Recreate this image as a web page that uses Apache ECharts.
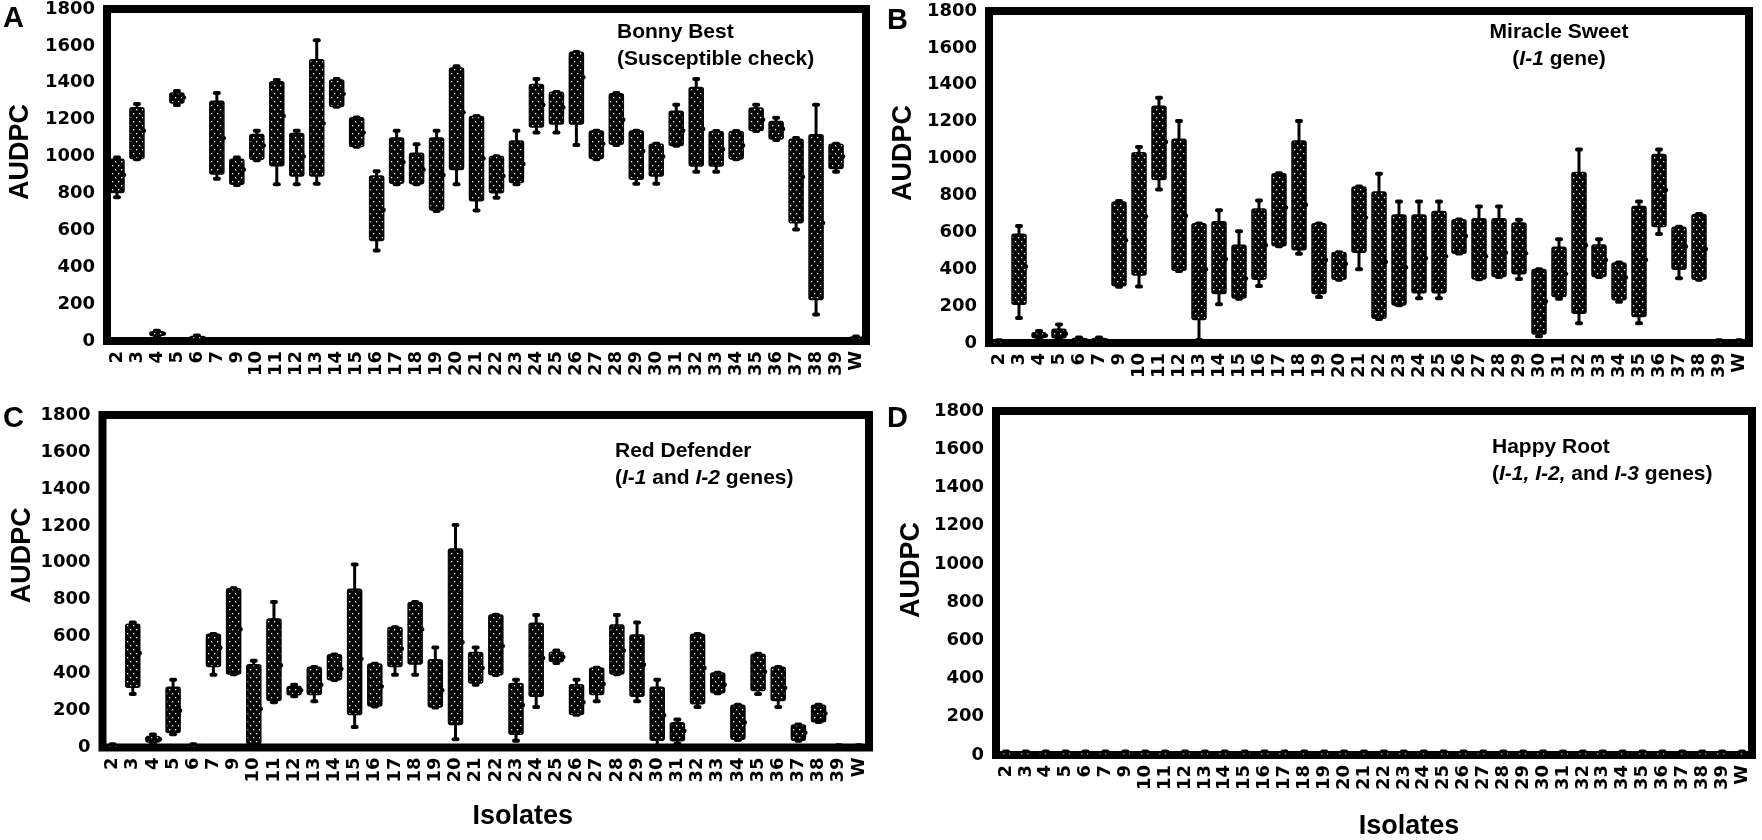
<!DOCTYPE html>
<html>
<head>
<meta charset="utf-8">
<title>AUDPC by isolate</title>
<script src="https://cdn.jsdelivr.net/npm/echarts@6/dist/echarts.min.js"></script>
<style>
	html, body { margin: 0; padding: 0; background: #fff; }
	#chart { width: 1762px; height: 840px; }
</style>
</head>
<body>
<div id="chart"></div>
<script>
(() => {

	// isolates on the x axis (no 8), W = water control
	const isolates = ['2', '3', '4', '5', '6', '7', '9', '10', '11', '12', '13', '14', '15', '16',
		'17', '18', '19', '20', '21', '22', '23', '24', '25', '26', '27', '28', '29', '30', '31',
		'32', '33', '34', '35', '36', '37', '38', '39', 'W'];

	const yTicks = [0, 1800, 200]; // min, max, step

	// each row: [min, Q1, median, Q3, max]
	const bonnyBest = [
		[780, 805, 900, 985, 995], [985, 990, 1140, 1265, 1285], [25, 30, 40, 50, 55],
		[1280, 1290, 1320, 1345, 1355], [5, 10, 15, 25, 30], [880, 905, 1100, 1300, 1345],
		[846, 850, 930, 985, 995], [980, 985, 1060, 1120, 1140], [850, 950, 1220, 1405, 1415],
		[850, 895, 1000, 1125, 1140], [853, 895, 1180, 1525, 1630], [1270, 1272, 1340, 1415, 1420],
		[1053, 1055, 1130, 1210, 1212], [490, 545, 710, 895, 920], [850, 855, 970, 1100, 1140],
		[850, 852, 930, 1018, 1067], [705, 710, 900, 1100, 1140], [850, 930, 1240, 1480, 1490],
		[708, 760, 990, 1217, 1220], [777, 804, 895, 1000, 1002], [850, 860, 960, 1085, 1140],
		[1130, 1160, 1280, 1390, 1420], [1130, 1176, 1266, 1348, 1350], [1062, 1176, 1430, 1565, 1567],
		[985, 989, 1070, 1139, 1140], [1062, 1067, 1200, 1340, 1344], [853, 877, 1030, 1139, 1140],
		[853, 895, 1000, 1067, 1070], [1058, 1060, 1140, 1245, 1281], [918, 949, 1150, 1375, 1420],
		[918, 949, 1040, 1136, 1138], [985, 987, 1060, 1136, 1138], [1139, 1141, 1200, 1263, 1281],
		[1090, 1095, 1150, 1190, 1210], [605, 641, 890, 1094, 1100], [143, 225, 640, 1118, 1281],
		[918, 935, 1000, 1067, 1070], [0, 5, 10, 20, 25]
	];

	const miracleSweet = [
		[0, 3, 5, 10, 15], [135, 210, 415, 590, 635], [20, 30, 40, 55, 65],
		[20, 29, 50, 74, 100], [0, 5, 15, 25, 30], [0, 5, 15, 25, 30],
		[305, 310, 557, 765, 770], [306, 369, 686, 1031, 1062], [832, 886, 1090, 1284, 1329],
		[390, 395, 690, 1104, 1204], [16, 127, 400, 646, 648], [210, 268, 455, 657, 720],
		[240, 244, 350, 530, 606], [309, 345, 530, 726, 773], [525, 527, 735, 918, 920],
		[484, 506, 750, 1095, 1204], [250, 268, 450, 646, 648], [343, 345, 430, 490, 492],
		[400, 492, 680, 846, 848], [130, 134, 440, 818, 918], [204, 206, 410, 694, 767],
		[242, 273, 460, 694, 767], [242, 273, 470, 713, 767], [485, 487, 580, 668, 670],
		[345, 347, 470, 673, 740], [358, 360, 490, 673, 740], [347, 375, 487, 650, 668],
		[36, 49, 225, 398, 400], [240, 252, 375, 519, 563], [107, 161, 530, 925, 1049],
		[358, 360, 450, 532, 563], [223, 235, 355, 434, 436], [107, 143, 450, 740, 767],
		[591, 632, 830, 1022, 1049], [351, 400, 523, 628, 630], [343, 345, 510, 697, 700],
		[0, 3, 5, 10, 15], [0, 3, 5, 10, 15]
	];

	const redDefender = [
		[0, 3, 8, 12, 18], [290, 326, 510, 667, 677], [20, 30, 45, 60, 70],
		[72, 81, 200, 326, 367], [0, 3, 8, 12, 18], [394, 439, 540, 613, 615],
		[396, 398, 640, 860, 862], [0, 20, 210, 448, 470], [245, 254, 445, 695, 788],
		[278, 285, 310, 330, 340], [251, 287, 340, 434, 436], [365, 367, 425, 502, 504],
		[111, 179, 480, 857, 991], [222, 224, 330, 452, 454], [394, 439, 535, 649, 651],
		[394, 452, 640, 785, 787], [217, 219, 310, 475, 541], [45, 125, 570, 1075, 1204],
		[340, 349, 430, 514, 541], [392, 394, 550, 717, 719], [36, 72, 230, 346, 367],
		[219, 278, 485, 672, 717], [457, 465, 490, 515, 525], [177, 179, 245, 340, 367],
		[251, 287, 344, 430, 432], [396, 398, 525, 663, 717], [251, 278, 448, 609, 677],
		[0, 39, 175, 326, 367], [20, 36, 90, 134, 152], [219, 237, 430, 613, 615],
		[294, 296, 340, 403, 405], [40, 45, 135, 229, 231], [290, 308, 410, 505, 507],
		[219, 254, 323, 434, 436], [37, 39, 80, 122, 124], [138, 140, 185, 229, 231],
		[0, 3, 6, 10, 12], [0, 3, 6, 10, 12]
	];

	const happyRoot = [
		[0, 4, 8, 12, 18], [0, 4, 8, 12, 18], [0, 4, 8, 12, 18], [0, 4, 8, 12, 18],
		[0, 4, 8, 12, 18], [0, 4, 8, 12, 18], [0, 4, 8, 12, 18], [0, 4, 8, 12, 18],
		[0, 4, 8, 12, 18], [0, 4, 8, 12, 18], [0, 4, 8, 12, 18], [0, 4, 8, 12, 18],
		[0, 4, 8, 12, 18], [0, 4, 8, 12, 18], [0, 4, 8, 12, 18], [0, 4, 8, 12, 18],
		[0, 4, 8, 12, 18], [0, 4, 8, 12, 18], [0, 4, 8, 12, 18], [0, 4, 8, 12, 18],
		[0, 4, 8, 12, 18], [0, 4, 8, 12, 18], [0, 4, 8, 12, 18], [0, 4, 8, 12, 18],
		[0, 4, 8, 12, 18], [0, 4, 8, 12, 18], [0, 4, 8, 12, 18], [0, 4, 8, 12, 18],
		[0, 4, 8, 12, 18], [0, 4, 8, 12, 18], [0, 4, 8, 12, 18], [0, 4, 8, 12, 18],
		[0, 4, 8, 12, 18], [0, 4, 8, 12, 18], [0, 4, 8, 12, 18], [0, 4, 8, 12, 18],
		[0, 4, 8, 12, 18], [0, 4, 8, 12, 18]
	];

	const panelData = [bonnyBest, miracleSweet, redDefender, happyRoot];
	const panelLetters = ['A', 'B', 'C', 'D'];
	const panelTitles = [
		'{b|Bonny Best}\n{b|(Susceptible check)}',
		'{b|Miracle Sweet}\n{b|(}{i|I-1}{b| gene)}',
		'{b|Red Defender}\n{b|(}{i|I-1}{b| and }{i|I-2}{b| genes)}',
		'{b|Happy Root}\n{b|(}{i|I-1, I-2,}{b| and }{i|I-3}{b| genes)}'
	];

	// frame boxes (pixel layout) for the four panels
	const frames = [
		{ left: 107, top: 9, width: 759, height: 332 },
		{ left: 989, top: 11, width: 760, height: 332 },
		{ left: 102.5, top: 415, width: 766.5, height: 332.5 },
		{ left: 996, top: 411, width: 756, height: 344 }
	];
	const yNameGap = [73, 72, 65, 71];
	const yNameShift = [46, 48, 52, 26];
	const titlePos = [
		{ left: 617, top: 19 },
		{ left: 1559, top: 19, textAlign: 'center' },
		{ left: 615, top: 438 },
		{ left: 1492, top: 434 }
	];
	const letterPos = [[3, 4], [887, 6], [3, 404], [887, 404]];

	const tickFont = { fontFamily: 'DejaVu Sans', fontWeight: 'bold', fontSize: 18, color: '#000' };
	const nameFont = { fontFamily: 'Liberation Sans', fontWeight: 'bold', fontSize: 27, color: '#000' };

	// black fill with white stipple, like the printed boxes
	function stipple() {
		const c = document.createElement('canvas');
		c.width = 6;
		c.height = 8;
		const g = c.getContext('2d');
		g.fillStyle = '#000';
		g.fillRect(0, 0, 6, 8);
		g.fillStyle = '#fff';
		g.fillRect(1, 1, 1.3, 1.3);
		g.fillRect(4, 5, 1.3, 1.3);
		return { image: c, repeat: 'repeat' };
	}
	const dots = stipple();

	function renderBox(params, api) {
		const i = api.value(0);
		const lo = api.coord([i, api.value(1)]);
		const q1 = api.coord([i, api.value(2)]);
		const md = api.coord([i, api.value(3)]);
		const q3 = api.coord([i, api.value(4)]);
		const hi = api.coord([i, api.value(5)]);
		const cx = lo[0];
		const w = 14;
		return {
			type: 'group',
			children: [
				{ type: 'line', shape: { x1: cx, y1: hi[1], x2: cx, y2: lo[1] }, style: { stroke: '#000', lineWidth: 3 } },
				{ type: 'rect', shape: { x: cx - 4, y: hi[1] - 2, width: 8, height: 4, r: 2 }, style: { fill: '#000' } },
				{ type: 'rect', shape: { x: cx - 4, y: lo[1] - 2, width: 8, height: 4, r: 2 }, style: { fill: '#000' } },
				{
					type: 'rect',
					shape: { x: cx - w / 2, y: q3[1], width: w, height: Math.max(q1[1] - q3[1], 3), r: 2 },
					style: { fill: dots, stroke: '#000', lineWidth: 1.5 }
				},
				{ type: 'circle', shape: { cx: cx + w / 2, cy: md[1], r: 2.2 }, style: { fill: '#000' } }
			]
		};
	}

	const grid = [], xAxis = [], yAxis = [], series = [], title = [], graphic = [];

	frames.forEach((f, k) => {
		grid.push(Object.assign({
			show: true,
			borderColor: '#000',
			borderWidth: 8,
			backgroundColor: 'transparent',
			containLabel: false,
			outerBoundsMode: 'none'
		}, f));

		const bottomRow = k >= 2;
		xAxis.push({
			type: 'category',
			gridIndex: k,
			data: isolates,
			boundaryGap: true,
			axisLine: { show: false },
			axisTick: { show: false },
			splitLine: { show: false },
			axisLabel: Object.assign({ rotate: 90, interval: 0, margin: 10 }, tickFont),
			name: bottomRow ? 'Isolates' : '',
			nameLocation: 'middle',
			nameGap: k === 2 ? 56 : 58,
			nameTextStyle: Object.assign({ padding: [0, 0, 0, k === 2 ? 74 : 70] }, nameFont)
		});

		yAxis.push({
			type: 'value',
			gridIndex: k,
			min: yTicks[0],
			max: yTicks[1],
			interval: yTicks[2],
			axisLine: { show: false },
			axisTick: { show: false },
			splitLine: { show: false },
			axisLabel: Object.assign({ margin: 12, formatter: v => String(v) }, tickFont),
			name: 'AUDPC',
			nameLocation: 'middle',
			nameGap: yNameGap[k],
			nameTextStyle: Object.assign({ padding: [0, 0, 0, yNameShift[k]] }, nameFont)
		});

		series.push({
			type: 'custom',
			name: panelLetters[k],
			xAxisIndex: k,
			yAxisIndex: k,
			renderItem: renderBox,
			encode: { x: 0, y: [1, 2, 3, 4, 5] },
			data: panelData[k].map((r, i) => [i].concat(r)),
			z: 1,
			silent: true
		});

		title.push(Object.assign({
			text: panelTitles[k],
			padding: 0,
			textStyle: {
				rich: {
					b: { fontFamily: 'Liberation Sans', fontWeight: 'bold', fontSize: 21, lineHeight: 27, color: '#000' },
					i: { fontFamily: 'Liberation Sans', fontWeight: 'bold', fontStyle: 'italic', fontSize: 21, lineHeight: 27, color: '#000' }
				}
			}
		}, titlePos[k]));

		graphic.push({
			type: 'text',
			left: letterPos[k][0],
			top: letterPos[k][1],
			style: {
				text: panelLetters[k],
				fontFamily: 'Liberation Sans',
				fontWeight: 'bold',
				fontSize: 29,
				fill: '#000'
			}
		});
	});

	const chart = echarts.init(document.getElementById('chart'));
	chart.setOption({
		animation: false,
		backgroundColor: '#fff',
		title,
		grid,
		xAxis,
		yAxis,
		series,
		graphic
	});

})();
</script>
</body>
</html>
